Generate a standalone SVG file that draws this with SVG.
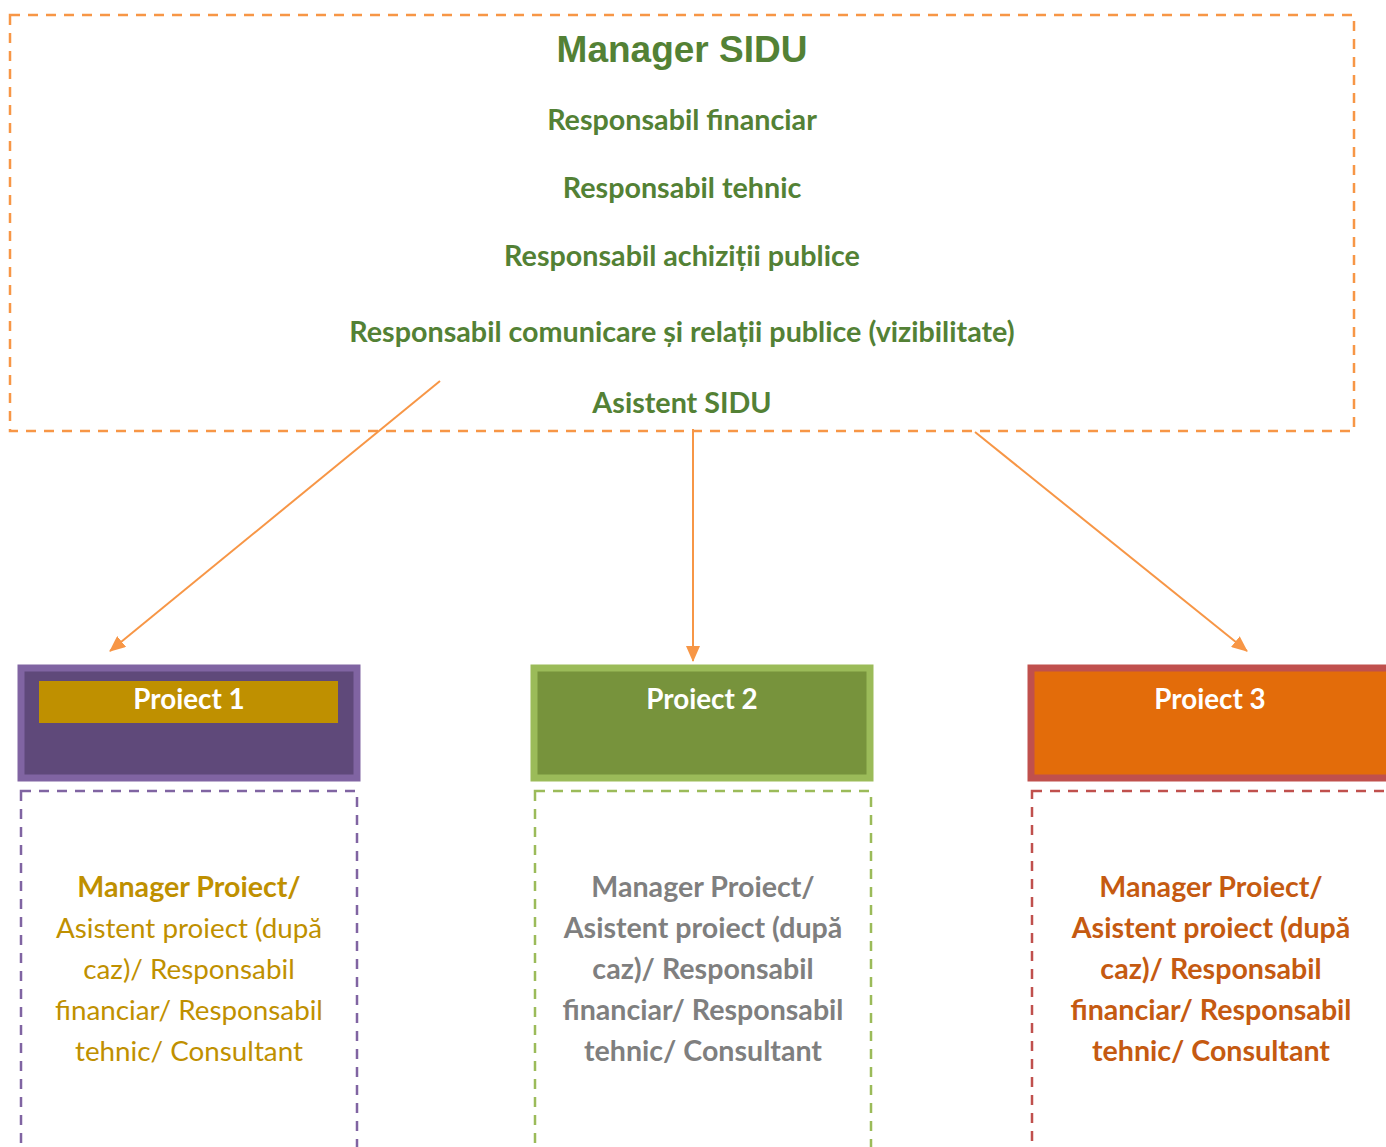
<svg xmlns="http://www.w3.org/2000/svg" width="1386" height="1147" viewBox="0 0 1386 1147">
<defs>
<marker id="ah" markerWidth="16" markerHeight="14" refX="15" refY="7" orient="auto" markerUnits="userSpaceOnUse">
<path d="M0,0 L16,7 L0,14 z" fill="#F79646"/>
</marker>
</defs>
<style>
.t{font-family:Lato,"Open Sans",sans-serif;text-anchor:middle}
.g{fill:#538135;font-weight:bold;font-size:28.7px}
.dash{fill:none;stroke-width:2.5;stroke-dasharray:10 8}
.conn{stroke:#F79646;stroke-width:2;fill:none}
.pt{fill:#fff;font-weight:bold;font-size:27.8px}
.b{font-size:28.6px}
.r{font-size:27.8px}
</style>
<rect width="1386" height="1147" fill="#fff"/>
<g id="manager">
<rect x="10" y="15" width="1344" height="416" class="dash" stroke="#F79646"/>
<text x="682" y="62" style="font-family:'Liberation Sans',Arial,sans-serif;font-weight:bold;font-size:37px;fill:#538135;text-anchor:middle">Manager SIDU</text>
<text class="t g" x="682" y="130">Responsabil financiar</text>
<text class="t g" x="682" y="198">Responsabil tehnic</text>
<text class="t g" x="682" y="266">Responsabil achiziții publice</text>
<text class="t g" x="682" y="342">Responsabil comunicare și relații publice (vizibilitate)</text>
<text class="t g" x="682" y="413">Asistent SIDU</text>
</g>
<g id="connectors">
<line class="conn" x1="440" y1="381" x2="110" y2="651" marker-end="url(#ah)"/>
<line class="conn" x1="693" y1="429" x2="693" y2="661" marker-end="url(#ah)"/>
<line class="conn" x1="975" y1="432" x2="1247" y2="651" marker-end="url(#ah)"/>
</g>
<g id="proiect1">
<rect x="21" y="668" width="336" height="110" fill="#5F497A" stroke="#8064A2" stroke-width="7"/>
<rect x="39" y="681" width="299" height="42" fill="#BF9000"/>
<text class="t pt" x="189" y="709">Proiect 1</text>
</g>
<g id="proiect2">
<rect x="534" y="668" width="336" height="110" fill="#77933C" stroke="#9BBB59" stroke-width="7"/>
<text class="t pt" x="702" y="709">Proiect 2</text>
</g>
<g id="proiect3">
<rect x="1031" y="668" width="360" height="110" fill="#E36C0A" stroke="#C0504D" stroke-width="7"/>
<text class="t pt" x="1210" y="709">Proiect 3</text>
</g>
<g id="echipa1">
<rect x="21" y="791" width="336" height="380" class="dash" stroke="#8064A2"/>
<g class="t" fill="#BF9000">
<text class="b" x="189" y="897" font-weight="bold">Manager Proiect/</text>
<text class="r" x="189" y="938">Asistent proiect (după</text>
<text class="r" x="189" y="979">caz)/ Responsabil</text>
<text class="r" x="189" y="1020">financiar/ Responsabil</text>
<text class="r" x="189" y="1061">tehnic/ Consultant</text>
</g>
</g>
<g id="echipa2">
<rect x="535" y="791" width="336" height="380" class="dash" stroke="#9BBB59"/>
<g class="t b" fill="#7F7F7F" font-weight="bold">
<text x="703" y="897">Manager Proiect/</text>
<text x="703" y="938">Asistent proiect (după</text>
<text x="703" y="979">caz)/ Responsabil</text>
<text x="703" y="1020">financiar/ Responsabil</text>
<text x="703" y="1061">tehnic/ Consultant</text>
</g>
</g>
<g id="echipa3">
<rect x="1032" y="791" width="380" height="380" class="dash" stroke="#C0504D"/>
<g class="t b" fill="#C55A11" font-weight="bold">
<text x="1211" y="897">Manager Proiect/</text>
<text x="1211" y="938">Asistent proiect (după</text>
<text x="1211" y="979">caz)/ Responsabil</text>
<text x="1211" y="1020">financiar/ Responsabil</text>
<text x="1211" y="1061">tehnic/ Consultant</text>
</g>
</g>
</svg>
